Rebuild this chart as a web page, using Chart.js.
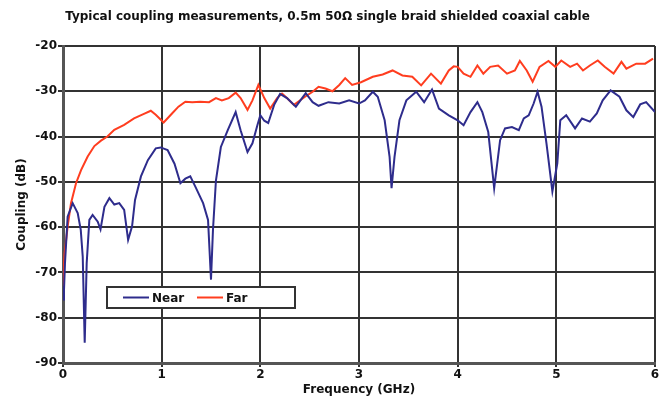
<!DOCTYPE html>
<html>
<head>
<meta charset="utf-8">
<script src="https://cdn.jsdelivr.net/npm/chart.js@4"></script>
<style>
  html, body { margin: 0; padding: 0; background: #fff; }
</style>
</head>
<body>
<canvas id="couplingChart" width="668" height="401"></canvas>
<script>
// Values
const chartTitle = "Typical coupling measurements, 0.5m 50\u03A9 single braid shielded coaxial cable";
const seriesNames = ["Near", "Far"];
const freqTicks = [0, 1, 2, 3, 4, 5, 6];
const dbTicks = [-90, -80, -70, -60, -50, -40, -30, -20];

const nearFreq = [0, 0.01, 0.02, 0.047, 0.098, 0.149, 0.18, 0.2, 0.22, 0.24,
  0.267, 0.3, 0.352, 0.38, 0.42, 0.47, 0.52, 0.57, 0.62, 0.66,
  0.7, 0.73, 0.79, 0.86, 0.94, 0.99, 1.06, 1.13, 1.19, 1.24,
  1.29, 1.34, 1.42, 1.47, 1.5, 1.52, 1.55, 1.6, 1.67, 1.75,
  1.8, 1.87, 1.92, 1.97, 2.0, 2.04, 2.08, 2.14, 2.2, 2.27,
  2.36, 2.46, 2.53, 2.59, 2.69, 2.8, 2.9, 3.0, 3.06, 3.14,
  3.19, 3.26, 3.31, 3.33, 3.36, 3.41, 3.48, 3.58, 3.66, 3.74,
  3.81, 3.91, 4.0, 4.06, 4.13, 4.2, 4.25, 4.31, 4.37, 4.43,
  4.48, 4.55, 4.62, 4.67, 4.72, 4.77, 4.81, 4.85, 4.9, 4.96,
  5.01, 5.04, 5.1, 5.19, 5.26, 5.34, 5.41, 5.47, 5.55, 5.64,
  5.71, 5.78, 5.85, 5.91, 6.0];
const nearDb = [-76, -74, -68, -57.7, -54.7, -56.9, -60.6, -66.5, -85.5, -68,
  -58.4, -57.3, -58.8, -60.5, -55.5, -53.6, -55, -54.7, -56.2, -62.8,
  -59.8, -54, -48.8, -45.2, -42.6, -42.4, -43, -46, -50.3, -49.3,
  -48.8, -51, -54.7, -58.4, -71.6, -60.6, -49.7, -42.3, -38.6, -34.6,
  -38.6, -43.4, -41.5, -37.5, -35.3, -36.5, -37, -33, -30.6, -31.5,
  -33.4, -30.4, -32.4, -33.2, -32.4, -32.7, -32, -32.7, -32, -30.1,
  -31.2, -36.4, -44.5, -51.4, -44.5, -36.4, -32, -30.1, -32.4, -29.6,
  -33.8, -35.3, -36.4, -37.5, -34.6, -32.4, -34.6, -39, -51.4, -40.8,
  -38.2, -37.9, -38.6, -36, -35.3, -32.7, -30.1, -33.4, -41.5, -52.1,
  -45.9, -36.4, -35.3, -38.2, -36, -36.7, -34.9, -32, -29.8, -31.2,
  -34.2, -35.7, -32.9, -32.4, -34.6];

const farFreq = [0, 0.015, 0.047, 0.081, 0.132, 0.183, 0.25, 0.318, 0.385, 0.45,
  0.52, 0.62, 0.72, 0.82, 0.89, 0.94, 1.02, 1.105, 1.17, 1.24,
  1.31, 1.39, 1.48, 1.55, 1.61, 1.68, 1.75, 1.8, 1.87, 1.92,
  1.98, 2.04, 2.1, 2.17, 2.22, 2.27, 2.34, 2.39, 2.46, 2.53,
  2.59, 2.66, 2.73, 2.8, 2.86, 2.93, 3.02, 3.14, 3.24, 3.34,
  3.44, 3.54, 3.63, 3.73, 3.83, 3.91, 3.96, 4.0, 4.06, 4.13,
  4.2, 4.26, 4.33, 4.41, 4.5, 4.58, 4.63, 4.7, 4.76, 4.83,
  4.92, 4.99, 5.05, 5.14, 5.21, 5.27, 5.34, 5.42, 5.49, 5.58,
  5.66, 5.71, 5.81, 5.9, 5.98];
const farDb = [-73, -66, -59.9, -54.7, -50.3, -47.4, -44.4, -42.1, -40.9, -40,
  -38.5, -37.4, -36, -35, -34.3, -35.2, -36.9, -34.9, -33.4, -32.3,
  -32.4, -32.3, -32.4, -31.5, -32, -31.5, -30.3, -31.5, -34.1, -32,
  -28.6, -31.5, -33.8, -31.5, -30.5, -31.5, -33, -32.2, -31.1, -30.1,
  -29, -29.4, -30, -28.6, -27.1, -28.6, -28, -26.8, -26.3, -25.4,
  -26.5, -26.8, -28.7, -26.1, -28.3, -25.4, -24.5, -24.6, -26.1, -26.8,
  -24.3, -26.1, -24.6, -24.3, -26.1, -25.4, -23.3, -25.4, -27.9, -24.6,
  -23.3, -24.6, -23.2, -24.6, -23.9, -25.4, -24.3, -23.2, -24.6, -26.1,
  -23.5, -25, -23.9, -23.9, -22.8];

const toPoints = (xs, ys) => xs.map((x, i) => ({ x: x, y: ys[i] }));

const fontFamily = "'DejaVu Sans', 'Liberation Sans', Arial, sans-serif";
const boldFont = (size) => ({ family: fontFamily, size: size, weight: "bold" });

// Boxed legend sitting inside the plot area, like the original
const boxLegend = {
  id: "boxLegend",
  afterDraw(chart) {
    const { ctx, chartArea } = chart;
    const left = chartArea.left + 44;
    const top = chartArea.bottom - 76;
    const w = 188, h = 21;
    ctx.save();
    ctx.fillStyle = "#ffffff";
    ctx.fillRect(left, top, w, h);
    ctx.strokeStyle = "#333333";
    ctx.lineWidth = 2;
    ctx.strokeRect(left, top, w, h);
    ctx.font = "bold 12px " + fontFamily;
    ctx.textBaseline = "middle";
    ctx.fillStyle = "#111111";
    let x = left + 16;
    const y = top + h / 2;
    chart.data.datasets.forEach((ds) => {
      ctx.strokeStyle = ds.borderColor;
      ctx.lineWidth = 2;
      ctx.beginPath();
      ctx.moveTo(x, y);
      ctx.lineTo(x + 26, y);
      ctx.stroke();
      ctx.fillText(ds.label, x + 29, y + 1);
      x += 74;
    });
    ctx.restore();
  },
};

function initChart() {
  const ctx = document.getElementById("couplingChart");
  new Chart(ctx, {
    type: "line",
    data: {
      datasets: [
        {
          label: seriesNames[0],
          data: toPoints(nearFreq, nearDb),
          borderColor: "#2E2C8C",
          borderWidth: 2,
          pointRadius: 0,
          tension: 0,
        },
        {
          label: seriesNames[1],
          data: toPoints(farFreq, farDb),
          borderColor: "#FF3D1F",
          borderWidth: 2,
          pointRadius: 0,
          tension: 0,
        },
      ],
    },
    options: {
      responsive: false,
      animation: false,
      devicePixelRatio: 1,
      layout: { padding: { left: 0, right: 13, top: 0, bottom: 0 } },
      plugins: {
        legend: { display: false },
        tooltip: { enabled: false },
        title: {
          display: true,
          text: chartTitle,
          color: "#111111",
          font: boldFont(12),
          padding: { top: 10, bottom: 21.6 },
        },
      },
      scales: {
        x: {
          type: "linear",
          min: freqTicks[0],
          max: freqTicks[freqTicks.length - 1],
          ticks: { stepSize: 1, color: "#111111", font: boldFont(12), padding: 1, maxRotation: 0 },
          grid: { color: "#333333", lineWidth: 2, tickLength: 4 },
          border: { color: "#555555", width: 3 },
          title: { display: true, text: "Frequency (GHz)", color: "#111111", font: boldFont(12), padding: { bottom: 4 } },
          afterFit(scale) { scale.height = 38; },
        },
        y: {
          min: dbTicks[0],
          max: dbTicks[dbTicks.length - 1],
          ticks: { stepSize: 10, color: "#111111", font: boldFont(12), padding: 1 },
          grid: { color: "#333333", lineWidth: 2, tickLength: 5 },
          border: { color: "#555555", width: 3 },
          title: { display: true, text: "Coupling (dB)", color: "#111111", font: boldFont(12), padding: { top: 15 } },
          afterFit(scale) { scale.width = 63; },
        },
      },
    },
    plugins: [boxLegend],
  });
}

initChart();
</script>
</body>
</html>
